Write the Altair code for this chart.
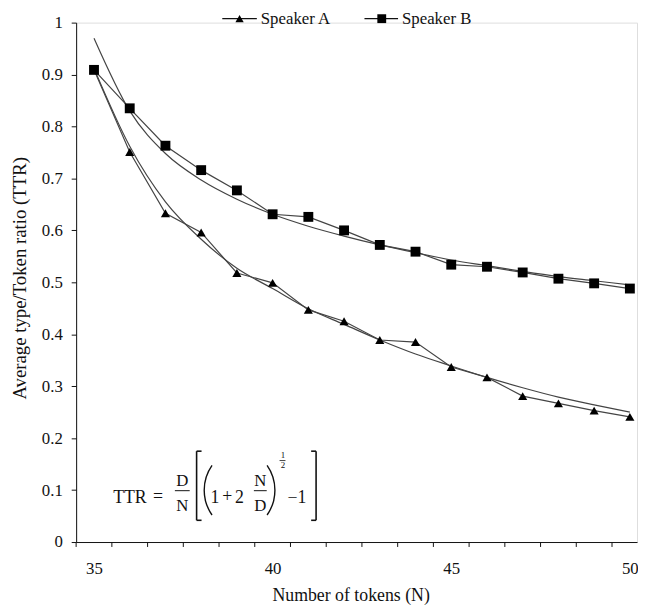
import math
import altair as alt
import pandas as pd

# ---- data ----
tokens = list(range(35, 51))
speaker_a = [0.909, 0.751, 0.633, 0.596, 0.518, 0.499, 0.447, 0.425,
             0.389, 0.385, 0.337, 0.317, 0.281, 0.267, 0.253, 0.241]
speaker_b = [0.909, 0.835, 0.763, 0.716, 0.677, 0.631, 0.626, 0.600,
             0.572, 0.559, 0.534, 0.530, 0.519, 0.507, 0.498, 0.488]
fit_a = [0.912, 0.762, 0.655, 0.583, 0.527, 0.488, 0.449, 0.419,
         0.389, 0.362, 0.339, 0.317, 0.297, 0.279, 0.264, 0.250]
fit_b = [0.970, 0.830, 0.748, 0.697, 0.660, 0.631, 0.608, 0.589,
         0.572, 0.557, 0.543, 0.532, 0.521, 0.511, 0.503, 0.495]
x_label_values = [35, 40, 45, 50]
x_tick_values = [t - 0.5 for t in tokens]
y_tick_values = [i / 10 for i in range(11)]

df = pd.DataFrame({"N": tokens, "A": speaker_a, "B": speaker_b,
                   "fitA": fit_a, "fitB": fit_b})
ticks_df = pd.DataFrame({"t": x_tick_values})

FONT = "Liberation Serif"
W, H = 568, 526
INK = "#111111"
LINE = "#444444"

xscale = alt.Scale(domain=[34.5, 50.2], nice=False, zero=False)
yscale = alt.Scale(domain=[0, 1], nice=False)

xaxis = alt.Axis(values=x_label_values, grid=False, ticks=False,
                 domainColor=INK, labelFont=FONT, labelFontSize=17, labelColor=INK,
                 format="d", labelPadding=19, labelBaseline="top", labelFlush=False,
                 labelOverlap=False, labelBound=False,
                 title="Number of tokens (N)", titleFont=FONT, titleFontSize=18,
                 titleFontWeight="normal", titleColor=INK,
                 titleX=278, titleY=54, titleAlign="center", titleBaseline="middle")
yaxis = alt.Axis(values=y_tick_values, grid=False, tickSize=5, tickColor=INK,
                 domainColor=INK, labelFont=FONT, labelFontSize=17, labelColor=INK,
                 labelExpr="datum.value == 0 ? '0' : (datum.value == 1 ? '1' : format(datum.value, '.1f'))",
                 labelPadding=9, labelFlush=False, labelOverlap=False,
                 title="Average type/Token ratio (TTR)", titleFont=FONT, titleFontSize=19,
                 titleFontWeight="normal", titleColor=INK,
                 titleX=-57, titleY=258.5, titleAngle=270, titleAlign="center",
                 titleBaseline="middle")

base = alt.Chart(df)

fit_a_line = base.mark_line(color=LINE, strokeWidth=1.2, interpolate="monotone").encode(
    x=alt.X("N:Q", scale=xscale, axis=xaxis), y=alt.Y("fitA:Q", scale=yscale, axis=yaxis))
fit_b_line = base.mark_line(color=LINE, strokeWidth=1.2, interpolate="monotone").encode(
    x=alt.X("N:Q", scale=xscale), y=alt.Y("fitB:Q", scale=yscale))
a_line = base.mark_line(color=LINE, strokeWidth=1.2).encode(
    x=alt.X("N:Q", scale=xscale), y=alt.Y("A:Q", scale=yscale))
b_line = base.mark_line(color=LINE, strokeWidth=1.2).encode(
    x=alt.X("N:Q", scale=xscale), y=alt.Y("B:Q", scale=yscale))
a_pts = base.mark_point(shape="triangle-up", filled=True, color="#000000", size=85, opacity=1).encode(
    x=alt.X("N:Q", scale=xscale), y=alt.Y("A:Q", scale=yscale))
b_pts = base.mark_point(shape="square", filled=True, color="#000000", size=100, opacity=1).encode(
    x=alt.X("N:Q", scale=xscale), y=alt.Y("B:Q", scale=yscale))

# category tick marks between the token values
x_ticks = alt.Chart(ticks_df).mark_rule(color=INK, strokeWidth=1).encode(
    x=alt.X("t:Q", scale=xscale), y=alt.value(H), y2=alt.value(H + 5))

one = pd.DataFrame({"k": [0]})


def txt(s, x, y, size, align="center", baseline="alphabetic"):
    return alt.Chart(one).mark_text(text=s, font=FONT, fontSize=size, color=INK,
                                    align=align, baseline=baseline).encode(
        x=alt.value(x), y=alt.value(y))


def seg(x1, x2, y1, y2, w=1.2):
    return alt.Chart(one).mark_rule(color=INK, strokeWidth=w).encode(
        x=alt.value(x1), x2=alt.value(x2), y=alt.value(y1), y2=alt.value(y2))


def paren(cx, cy, r, start_deg, end_deg):
    return alt.Chart(one).mark_arc(color=INK).encode(
        x=alt.value(cx), y=alt.value(cy),
        theta=alt.value(math.radians(start_deg)), theta2=alt.value(math.radians(end_deg)),
        radius=alt.value(r), radius2=alt.value(r - 1.4))


# legend (top, centred)
legend = [
    seg(148, 183, -4, -4),
    alt.Chart(one).mark_point(shape="triangle-up", filled=True, color="#000", size=70, opacity=1).encode(
        x=alt.value(165.5), y=alt.value(-4)),
    txt("Speaker A", 187, -4, 17, align="left", baseline="middle"),
    seg(292, 326, -4, -4),
    alt.Chart(one).mark_point(shape="square", filled=True, color="#000", size=80, opacity=1).encode(
        x=alt.value(309.5), y=alt.value(-4)),
    txt("Speaker B", 330, -4, 17, align="left", baseline="middle"),
]

# formula annotation
formula = [
    txt("TTR", 54.5, 486, 18),
    txt("=", 83, 485, 18),
    txt("D", 107.5, 469, 17),
    seg(100, 115, 474, 474, 1),
    txt("N", 107.5, 495, 17),
    seg(122, 122, 434, 504, 1.6), seg(122, 127, 434, 434, 1.6), seg(122, 127, 504, 504, 1.6),
    paren(173.5, 473.5, 44.5, 235, 305),
    txt("1", 140.5, 486, 18),
    txt("+", 153, 485, 18),
    txt("2", 165.5, 486, 18),
    txt("N", 186.5, 469, 17),
    seg(180, 193, 474, 474, 1),
    txt("D", 186.5, 495, 17),
    paren(157.5, 473.5, 44.5, 55, 125),
    txt("1", 209.5, 441, 9),
    seg(206, 212, 443.5, 443.5, 0.8),
    txt("2", 209.5, 451, 9),
    txt("\u22121", 223.5, 486, 18),
    seg(243, 243, 434, 504, 1.6), seg(238, 243, 434, 434, 1.6), seg(238, 243, 504, 504, 1.6),
]

chart = alt.layer(fit_a_line, fit_b_line, a_line, b_line, x_ticks, a_pts, b_pts,
                  *legend, *formula).properties(
    width=W, height=H,
    autosize=alt.AutoSizeParams(type="none"),
    padding={"left": 69, "top": 11, "right": 1, "bottom": 62},
).configure_view(stroke=None).configure(background="white")

chart.save("out.html", embed_options={"renderer": "svg", "actions": False})
